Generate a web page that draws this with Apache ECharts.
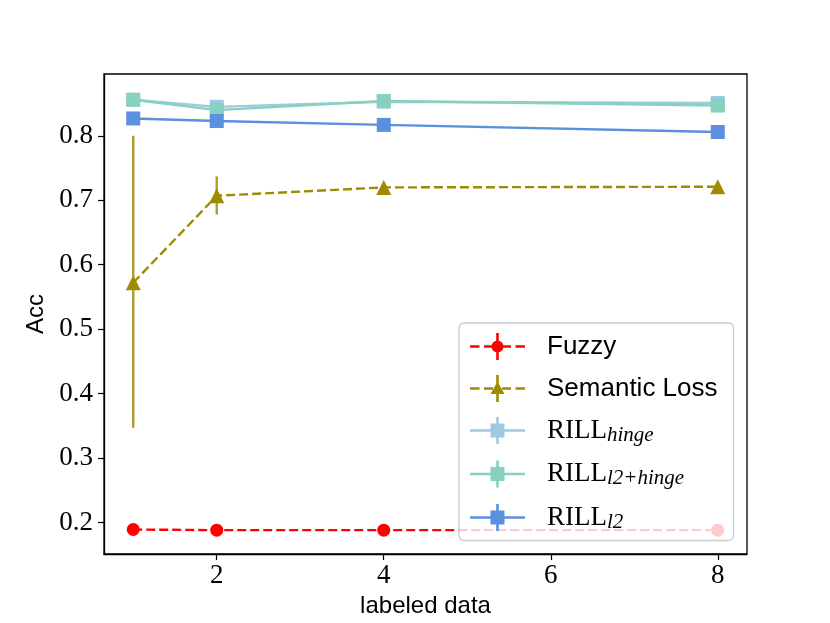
<!DOCTYPE html>
<html lang="en">
<head>
    <meta charset="UTF-8">
    <script src="https://cdn.jsdelivr.net/npm/echarts@6/dist/echarts.min.js"></script>
    <title>Acc vs labeled data</title>
    <style>
        html, body { margin: 0; padding: 0; background: #fff; }
        #main { width: 830px; height: 623px; }
    </style>
</head>
<body>
    <div id="main"></div>
    <script type="text/javascript">
        // data
        var xs = [1, 2, 4, 8];
        var fuzzy = [0.189, 0.188, 0.188, 0.188];
        var semantic = [0.572, 0.707, 0.720, 0.721];
        var semanticLow = [0.347, 0.678, 0.717, 0.718];
        var semanticHigh = [0.800, 0.737, 0.723, 0.724];
        var hinge = [0.856, 0.845, 0.853, 0.851];
        var l2hinge = [0.856, 0.840, 0.854, 0.847];
        var l2 = [0.827, 0.823, 0.817, 0.806];
        var xTicks = [2, 4, 6, 8];
        var yTicks = [0.2, 0.3, 0.4, 0.5, 0.6, 0.7, 0.8];
        var names = ['Fuzzy', 'Semantic Loss', 'RILL_hinge', 'RILL_l2hinge', 'RILL_l2'];

        function pairs(ys) {
            return xs.map(function (x, i) { return [x, ys[i]]; });
        }

        // legend icons: line (dashed or solid) + vertical error bar + marker, 55x27 box
        var hLineSolid = 'M0 12.2 H55 V14.8 H0 Z ';
        var hLineDash = 'M0 12.2 H9.5 V14.8 H0 Z M14 12.2 H23 V14.8 H14 Z M32 12.2 H41 V14.8 H32 Z M45.5 12.2 H55 V14.8 H45.5 Z ';
        var vBar = 'M26.2 0 H28.8 V27 H26.2 Z ';
        var mCircle = 'M33.5 13.5 A6 6 0 1 1 21.5 13.5 A6 6 0 1 1 33.5 13.5 Z';
        var mTri = 'M27.5 6.5 L34.5 19 L20.5 19 Z';
        var mSquare = 'M20.5 6.5 H34.5 V20.5 H20.5 Z';

        var myChart = echarts.init(document.getElementById('main'));

        var serif = '"Liberation Serif", "DejaVu Serif", serif';
        var sans = '"Liberation Sans", Arial, sans-serif';

        var option = {
            backgroundColor: '#fff',
            animation: false,
            grid: {
                left: 104, right: 83, top: 74, bottom: 69,
                show: true, borderColor: '#000', borderWidth: 1.3, backgroundColor: 'transparent'
            },
            xAxis: {
                type: 'value',
                min: 0.65, max: 8.35,
                name: 'labeled data',
                nameLocation: 'middle',
                nameGap: 40,
                nameTextStyle: { fontFamily: sans, fontSize: 24, color: '#000' },
                axisLine: { show: true, onZero: false, lineStyle: { color: '#000', width: 1.3 } },
                axisTick: { show: true, inside: false, length: 6, lineStyle: { color: '#000', width: 1.2 }, customValues: xTicks },
                axisLabel: { margin: 8, fontFamily: serif, fontSize: 27, color: '#000', customValues: xTicks },
                splitLine: { show: false }
            },
            yAxis: {
                type: 'value',
                min: 0.151, max: 0.896,
                name: 'Acc',
                nameLocation: 'middle',
                nameGap: 56,
                nameTextStyle: { fontFamily: sans, fontSize: 24, color: '#000' },
                axisLine: { show: true, onZero: false, lineStyle: { color: '#000', width: 1.3 } },
                axisTick: { show: true, inside: false, length: 6, lineStyle: { color: '#000', width: 1.2 }, customValues: yTicks },
                axisLabel: {
                    margin: 11, fontFamily: serif, fontSize: 27, color: '#000', customValues: yTicks,
                    formatter: function (v) { return v.toFixed(1); }
                },
                splitLine: { show: false }
            },
            legend: {
                orient: 'vertical',
                left: 459, top: 323,
                z: 20,
                padding: [10, 16, 8, 11],
                itemWidth: 55, itemHeight: 27, itemGap: 15,
                backgroundColor: 'rgba(255,255,255,0.8)',
                borderColor: '#cccccc', borderWidth: 1.3, borderRadius: 5,
                selectedMode: false,
                itemStyle: { borderWidth: 0 },
                textStyle: {
                    color: '#000', fontFamily: sans, fontSize: 26, padding: [0, 0, 0, 17],
                    rich: {
                        a: { fontFamily: serif, fontSize: 27, lineHeight: 30, color: '#000' },
                        s: { fontFamily: serif, fontStyle: 'italic', fontSize: 21, lineHeight: 14, verticalAlign: 'bottom', color: '#000' }
                    }
                },
                formatter: function (n) {
                    if (n === 'RILL_hinge') return '{a|RILL}{s|hinge}';
                    if (n === 'RILL_l2hinge') return '{a|RILL}{s|l2+hinge}';
                    if (n === 'RILL_l2') return '{a|RILL}{s|l2}';
                    return n;
                },
                data: [
                    { name: names[0], icon: 'path://' + hLineDash + vBar + mCircle },
                    { name: names[1], icon: 'path://' + hLineDash + vBar + mTri },
                    { name: names[2], icon: 'path://' + hLineSolid + vBar + mSquare },
                    { name: names[3], icon: 'path://' + hLineSolid + vBar + mSquare },
                    { name: names[4], icon: 'path://' + hLineSolid + vBar + mSquare }
                ]
            },
            series: [
                {
                    name: names[0], type: 'line', data: pairs(fuzzy), z: 3,
                    symbol: 'circle', symbolSize: 13,
                    itemStyle: { color: '#ff0000' },
                    lineStyle: { color: '#ff0000', width: 2.4, type: [9, 4] }
                },
                {
                    // semantic loss error bars
                    name: 'semErr', type: 'custom', z: 2,
                    data: xs.map(function (x, i) { return [x, semanticLow[i], semanticHigh[i]]; }),
                    renderItem: function (params, api) {
                        var p1 = api.coord([api.value(0), api.value(1)]);
                        var p2 = api.coord([api.value(0), api.value(2)]);
                        return {
                            type: 'line',
                            shape: { x1: p1[0], y1: p1[1], x2: p2[0], y2: p2[1] },
                            style: { stroke: '#a08a00', lineWidth: 2.4, opacity: 0.85 }
                        };
                    },
                    silent: true
                },
                {
                    name: names[1], type: 'line', data: pairs(semantic), z: 3,
                    symbol: 'triangle', symbolSize: 15,
                    itemStyle: { color: '#a08a00' },
                    lineStyle: { color: '#a08a00', width: 2.4, type: [9, 4] }
                },
                {
                    name: names[2], type: 'line', data: pairs(hinge), z: 3,
                    symbol: 'rect', symbolSize: 14,
                    itemStyle: { color: '#9ecae1' },
                    lineStyle: { color: '#9ecae1', width: 2.4 }
                },
                {
                    name: names[3], type: 'line', data: pairs(l2hinge), z: 3,
                    symbol: 'rect', symbolSize: 14,
                    itemStyle: { color: '#88d0bf' },
                    lineStyle: { color: '#88d0bf', width: 2.4 }
                },
                {
                    name: names[4], type: 'line', data: pairs(l2), z: 3,
                    symbol: 'rect', symbolSize: 14,
                    itemStyle: { color: '#5b8fe0' },
                    lineStyle: { color: '#5b8fe0', width: 2.4 }
                }
            ]
        };
        myChart.setOption(option);
    </script>
</body>
</html>
